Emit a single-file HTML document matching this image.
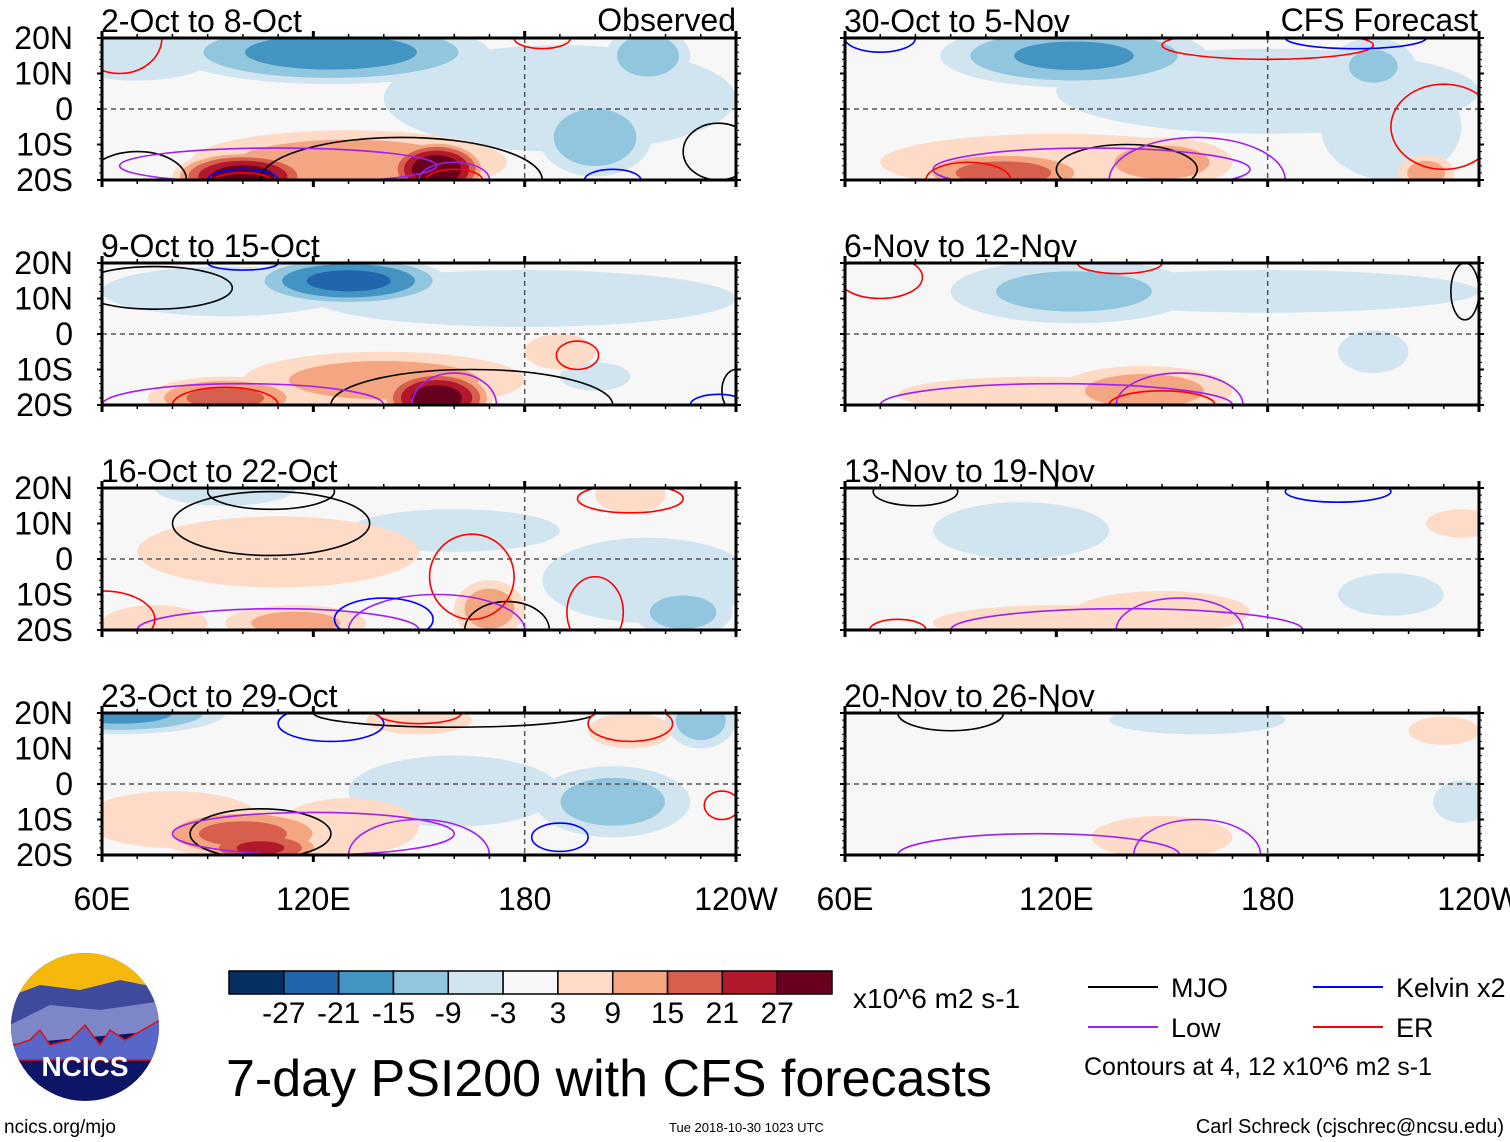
<!DOCTYPE html>
<html><head><meta charset="utf-8">
<style>
body{margin:0;background:#fff;width:1510px;height:1142px;overflow:hidden;font-family:"Liberation Sans",sans-serif;}
svg{position:absolute;left:0;top:0}
</style></head>
<body>
<svg id="chart" width="1510" height="1142" viewBox="0 0 1510 1142" xmlns="http://www.w3.org/2000/svg" font-family="Liberation Sans, sans-serif"></svg>
<script>
// ---- data ----
const levels = [-27,-21,-15,-9,-3,3,9,15,21,27];
const colorbarColors = ["#053061","#2166ac","#4393c3","#92c5de","#d1e5f0","#f7f7f7","#fddbc7","#f4a582","#d6604d","#b2182b","#67001f"];
const panelTitles = ["2-Oct to 8-Oct","9-Oct to 15-Oct","16-Oct to 22-Oct","23-Oct to 29-Oct","30-Oct to 5-Nov","6-Nov to 12-Nov","13-Nov to 19-Nov","20-Nov to 26-Nov"];
const latTicks = [20,10,0,-10,-20];
const latLabels = ["20N","10N","0","10S","20S"];
const lonTicks = [60,120,180,240];
const lonLabels = ["60E","120E","180","120W"];
// anomaly blobs per panel: [lon, lat, rxDeg, ryDeg, peak]
const blobs1 = [[190,3,50,15,-6],[125,16,45,9,-17],[200,-8,16,11,-13],[215,15,12,8,-13],[70,15,22,7,-7],[130,-15,45,9,12],[100,-19,20,7,30],[155,-17,14,8,32]];
const blobs2 = [[180,10,60,8,-5],[95,12,35,7,-7],[130,15,28,7,-22],[200,-12,10,4,-5],[140,-13,40,8,11],[95,-18,22,6,16],[155,-18,16,8,30],[190,-5,10,5,5]];
const blobs3 = [[215,-6,30,12,-6],[95,20,20,5,-6],[160,8,30,6,-5],[225,-15,14,7,-11],[110,2,40,10,6],[170,-14,10,8,12],[115,-18,20,5,10],[210,18,10,5,6],[75,-18,15,5,6]];
const blobs4 = [[160,-2,30,10,-6],[65,20,30,6,-16],[230,18,10,8,-12],[205,-5,22,10,-11],[80,-10,25,8,6],[130,-12,20,8,6],[100,-14,25,7,16],[105,-18,18,5,21],[150,18,15,4,6],[210,15,12,5,5]];
const blobs5 = [[180,5,60,12,-5],[215,-5,20,15,-6],[125,15,38,9,-15],[210,12,12,8,-9],[120,-15,50,8,7],[150,-15,20,7,11],[105,-18,25,6,17],[225,-18,8,5,11]];
const blobs6 = [[180,12,60,6,-5],[125,12,35,9,-10],[210,-5,10,6,-5],[115,-17,40,5,5],[145,-16,25,7,11]];
const blobs7 = [[110,8,25,8,-5],[215,-10,15,6,-7],[120,-18,35,5,4],[150,-15,25,6,6],[235,10,10,4,5]];
const blobs8 = [[160,18,25,4,-4],[235,-5,8,6,-4],[150,-15,20,6,5],[230,15,10,4,4]];
// contour ellipses: [lon, lat, rxDeg, ryDeg, type]
const lines1 = [[145,-20,40,12,"mjo"],[235,-12,10,8,"mjo"],[70,-20,14,8,"mjo"],[110,-16,45,5,"low"],[160,-20,10,5,"low"],[205,-20,8,3,"kelvin"],[100,-20,10,3,"kelvin"],[100,-20,8,2,"er"],[160,-20,8,3,"er"],[185,20,8,3,"er"],[65,20,12,10,"er"]];
const lines2 = [[75,13,22,6,"mjo"],[165,-20,40,10,"mjo"],[240,-16,4,6,"mjo"],[100,-20,40,6,"low"],[160,-20,12,9,"low"],[195,-6,6,4,"er"],[95,-20,15,5,"er"],[235,-20,8,3,"kelvin"],[100,20,10,2,"kelvin"]];
const lines3 = [[108,10,28,9,"mjo"],[108,19,18,5,"mjo"],[175,-20,12,8,"mjo"],[210,17,15,4,"er"],[165,-5,12,12,"er"],[200,-15,8,10,"er"],[110,-20,40,6,"low"],[155,-20,25,10,"low"],[140,-17,14,6,"kelvin"],[60,-17,15,8,"er"]];
const lines4 = [[105,-14,20,7,"mjo"],[160,20,40,4,"mjo"],[120,-14,40,6,"low"],[150,-20,20,10,"low"],[125,17,15,5,"kelvin"],[190,-15,8,4,"kelvin"],[150,20,12,3,"er"],[210,17,12,5,"er"],[236,-6,5,4,"er"]];
const lines5 = [[140,-17,20,7,"mjo"],[130,-17,45,6,"low"],[160,-20,25,12,"low"],[230,-5,15,12,"er"],[180,18,30,4,"er"],[95,-20,12,5,"er"],[205,20,20,3,"kelvin"],[70,20,10,4,"kelvin"]];
const lines6 = [[120,-20,50,6,"low"],[155,-20,18,9,"low"],[150,-20,15,4,"er"],[70,16,12,6,"er"],[138,20,12,3,"er"],[236,12,4,8,"mjo"]];
const lines7 = [[140,-20,50,6,"low"],[155,-20,18,9,"low"],[200,19,15,3,"kelvin"],[80,19,12,4,"mjo"],[75,-20,8,3,"er"]];
const lines8 = [[115,-20,40,6,"low"],[160,-20,18,10,"low"],[90,20,15,5,"mjo"]];
const allBlobs = [blobs1,blobs2,blobs3,blobs4,blobs5,blobs6,blobs7,blobs8];
const allLines = [lines1,lines2,lines3,lines4,lines5,lines6,lines7,lines8];

const NS = "http://www.w3.org/2000/svg";
const svg = document.getElementById("chart");
function mk(tag, attrs, parent){const e=document.createElementNS(NS,tag);for(const k in attrs)e.setAttribute(k,attrs[k]);(parent||svg).appendChild(e);return e;}
const lineColor = {mjo:"#000",low:"#a020f0",kelvin:"#0000ff",er:"#ff0000"};
function colorFor(v){let i=0;while(i<levels.length && v>levels[i])i++;return colorbarColors[i];}

const colX=[102,845], rowY=[38,263,488,713], PW=634, PH=142;

for(let p=0;p<8;p++){
  const x0=colX[p<4?0:1], y0=rowY[p%4];
  const xs = lon => x0 + (lon-60)/180*PW;
  const ys = lat => y0 + (20-lat)/40*PH;
  const g = mk("g",{});
  
  
  mk("clipPath",{id:"clip"+p},g).appendChild((()=>{const r=document.createElementNS(NS,"rect");r.setAttribute("x",x0);r.setAttribute("y",y0);r.setAttribute("width",PW);r.setAttribute("height",PH);return r;})());
  mk("rect",{x:x0,y:y0,width:PW,height:PH,fill:"#f7f7f7"},g);
  const inner = mk("g",{"clip-path":"url(#clip"+p+")"},g);
  const th=[3,9,15,21,27];
  for(const t of th){
    for(const b of allBlobs[p]){
      const [lon,lat,rx,ry,v]=b; const a=Math.abs(v);
      if(a<t) continue;
      const sc = Math.sqrt(Math.max(1-(t-3)/a,0.04));
      const val = v>0? t+0.1 : -t-0.1;
      const e=mk("ellipse",{cx:xs(lon),cy:ys(lat),rx:rx*sc*PW/180,ry:ry*sc*PH/40,fill:colorFor(val)},inner);
      
      
    }
  }
  mk("line",{x1:x0,x2:x0+PW,y1:ys(0),y2:ys(0),stroke:"#555","stroke-width":1.5,"stroke-dasharray":"5,4"},inner);
  mk("line",{x1:xs(180),x2:xs(180),y1:y0,y2:y0+PH,stroke:"#555","stroke-width":1.5,"stroke-dasharray":"5,4"},inner);
  for(const c of allLines[p]){
    const [lon,lat,rx,ry,t]=c;
    const e=mk("ellipse",{cx:xs(lon),cy:ys(lat),rx:rx*PW/180,ry:ry*PH/40,fill:"none",stroke:lineColor[t],"stroke-width":1.6},inner);
    
    
  }
  mk("rect",{x:x0,y:y0,width:PW,height:PH,fill:"none",stroke:"#000","stroke-width":3},g);
  for(let lon=60;lon<=240;lon+=10){
    const big = lonTicks.includes(lon);
    mk("line",{x1:xs(lon),x2:xs(lon),y1:y0+PH,y2:y0+PH+(big?7:4),stroke:"#000","stroke-width":big?3:1.5},g);
    mk("line",{x1:xs(lon),x2:xs(lon),y1:y0,y2:y0-(big?7:4),stroke:"#000","stroke-width":big?3:1.5},g);
  }
  for(let lat=-20;lat<=20;lat+=2){
    const big = lat%10===0;
    mk("line",{x1:x0,x2:x0-(big?5:3),y1:ys(lat),y2:ys(lat),stroke:"#000","stroke-width":big?2:1},g);
    mk("line",{x1:x0+PW,x2:x0+PW+(big?5:3),y1:ys(lat),y2:ys(lat),stroke:"#000","stroke-width":big?2:1},g);
  }
  const tt=mk("text",{x:x0-1,y:y0-6,"font-size":32},g); tt.textContent=panelTitles[p];
  
  
  if(p<4){
    latTicks.forEach((lat,i)=>{const l=mk("text",{x:73,y:ys(lat)+11,"font-size":32,"text-anchor":"end"});l.textContent=latLabels[i];
      
      });
  }
  if(p%4===3){
    lonTicks.forEach((lon,i)=>{const l=mk("text",{x:xs(lon),y:910,"font-size":32,"text-anchor":"middle"});l.textContent=lonLabels[i];
      
      });
  }
}
function txt(x,y,s,str,name,anchor){const t=mk("text",{x:x,y:y,"font-size":s,"text-anchor":anchor||"start"});t.textContent=str;return t;}
txt(736,31,32,"Observed","observed-label","end");
txt(1478,31,32,"CFS Forecast","forecast-label","end");
const cbX=229,cbW=603,cbY=971,cbH=23,bw=cbW/11;
colorbarColors.forEach((c,i)=>{const r=mk("rect",{x:cbX+i*bw,y:cbY,width:bw,height:cbH,fill:c,stroke:"#000","stroke-width":1.5});
  
  });
levels.forEach((v,i)=>{txt(cbX+(i+1)*bw,1023,30,String(v),"colorbar-label","middle");});
txt(853,1008,28,"x10^6 m2 s-1","colorbar-units");
txt(226,1096,52,"7-day PSI200 with CFS forecasts","main-title");
txt(4,1133,19,"ncics.org/mjo","source-url");
txt(669,1132,13,"Tue 2018-10-30 1023 UTC","timestamp");
txt(1504,1133,20,"Carl Schreck (cjschrec@ncsu.edu)","author","end");
[["mjo","MJO",1088,987],["low","Low",1088,1027],["kelvin","Kelvin x2",1313,987],["er","ER",1313,1027]].forEach(l=>{
  const ln=mk("line",{x1:l[2],x2:l[2]+70,y1:l[3],y2:l[3],stroke:lineColor[l[0]],"stroke-width":2});
  
  
  txt(l[2]+83,l[3]+10,27,l[1],"legend-entry");
});
txt(1084,1075,25,"Contours at 4, 12 x10^6 m2 s-1","contour-note");
const lg=mk("g",{});


mk("clipPath",{id:"logoclip"},lg).appendChild((()=>{const e=document.createElementNS(NS,"ellipse");e.setAttribute("cx",85);e.setAttribute("cy",1027);e.setAttribute("rx",74);e.setAttribute("ry",74);return e;})());
const lgi=mk("g",{"clip-path":"url(#logoclip)"},lg);
mk("rect",{x:0,y:950,width:170,height:160,fill:"#0c1566"},lgi);
mk("rect",{x:0,y:950,width:170,height:60,fill:"#f5b80c"},lgi);
mk("path",{d:"M0 1000 L40 985 L80 990 L120 980 L170 990 L170 1020 L0 1030Z",fill:"#3e4a9c"},lgi);
mk("path",{d:"M0 1030 L50 1005 L100 1010 L170 1000 L170 1030 L0 1045Z",fill:"#7d87c8"},lgi);
mk("path",{d:"M0 1050 L30 1040 L40 1030 L50 1045 L70 1040 L85 1025 L100 1045 L110 1030 L125 1040 L160 1020 L170 1020 L170 1060 L0 1060Z",fill:"#5865c9",stroke:"#e01010","stroke-width":1.5},lgi);
const lt=mk("text",{x:85,y:1076,"font-size":28,"font-weight":"bold",fill:"#fff","text-anchor":"middle"},lg);lt.textContent="NCICS";
</script>
</body></html>
